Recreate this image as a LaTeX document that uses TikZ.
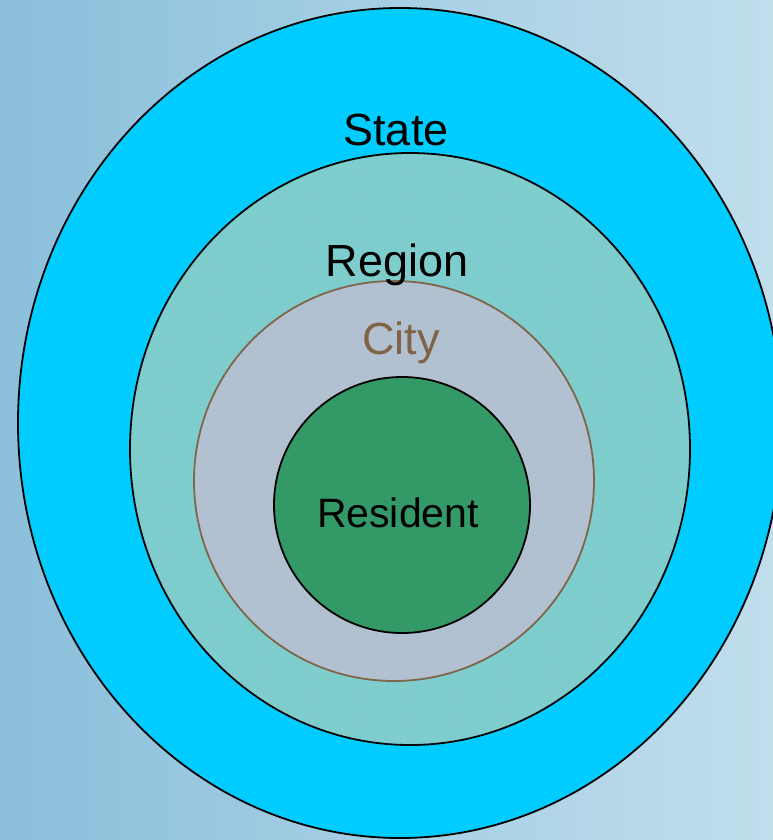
\documentclass[tikz,border=0pt]{standalone}
\usepackage{fontspec}
\setmainfont{Liberation Sans}
\usetikzlibrary{patterns}
\definecolor{bgleft}{HTML}{8BBFDB}
\definecolor{bgright}{HTML}{C0DEEC}
\definecolor{statecol}{HTML}{00CCFF}
\definecolor{regioncol}{HTML}{80CCCC}
\definecolor{citycol}{HTML}{B4BFD0}
\definecolor{residentcol}{HTML}{339966}
\definecolor{citybrown}{HTML}{806448}
\tikzset{
	ring/.style={draw=black,line width=1.8pt},
	dotfill/.style={postaction={pattern=dots,pattern color=cyan!70,opacity=0.35}},
	lbl/.style={anchor=base,inner sep=0pt,font=\fontsize{45}{54}\selectfont}
}
\begin{document}
\begin{tikzpicture}[x=1pt,y=-1pt]
	\useasboundingbox (0,0) rectangle (773,840);
	\clip (0,0) rectangle (773,840);
	\shade[left color=bgleft,right color=bgright] (0,0) rectangle (773,840);
	\filldraw[ring,fill=statecol] (400,423) ellipse [x radius=382,y radius=415];
	\filldraw[ring,fill=regioncol,dotfill] (410,449) ellipse [x radius=280,y radius=296];
	\filldraw[ring,draw=citybrown,fill=citycol,dotfill] (394,481) circle [radius=200];
	\filldraw[ring,fill=residentcol] (402,505) circle [radius=128];
	\node[lbl] (state) at (396,145) {State};
	\node[lbl] (region) at (397,276) {Region};
	\node[lbl,text=citybrown] (city) at (401,354) {City};
	\node[lbl,font=\fontsize{41}{50}\selectfont] (resident) at (398,527) {Resident};
\end{tikzpicture}
\end{document}
